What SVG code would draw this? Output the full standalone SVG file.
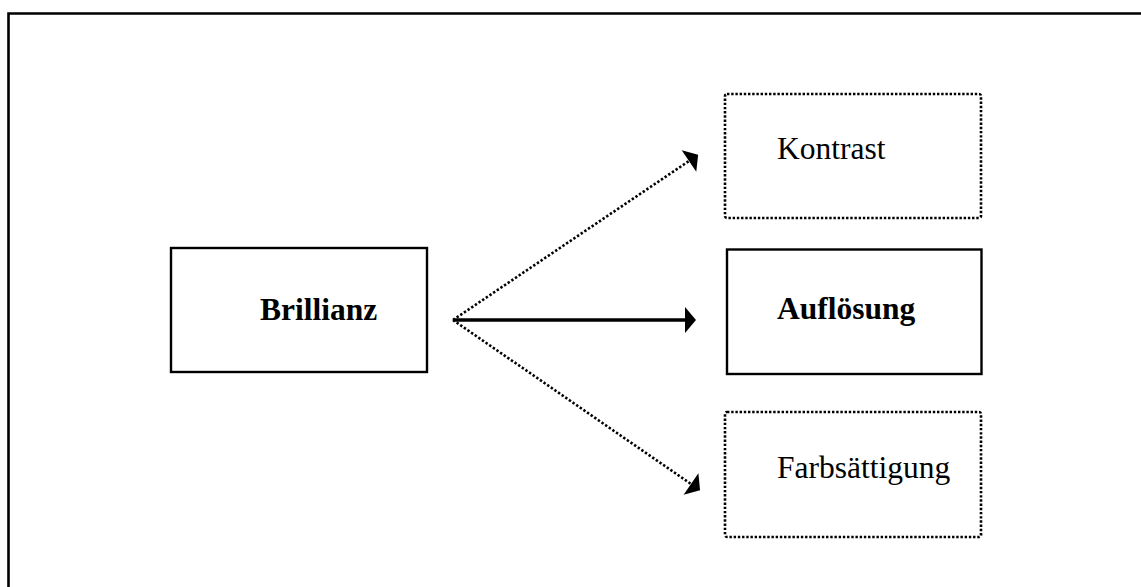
<svg xmlns="http://www.w3.org/2000/svg" width="1141" height="587" viewBox="0 0 1141 587">
  <style>
    .solid { fill: #fff; stroke: #000; stroke-width: 2.4; }
    .dotted { fill: #fff; stroke: #000; stroke-width: 2.6; stroke-dasharray: 2.4 1.8; }
    .label { font-family: "Liberation Serif", "Times New Roman", serif; font-size: 31.5px; fill: #000; }
    .bold { font-weight: bold; }
    .link-solid { stroke: #000; stroke-width: 3.4; fill: none; }
    .link-dotted { stroke: #000; stroke-width: 2.6; stroke-dasharray: 2.4 2; fill: none; }
  </style>
  <defs>
    <marker id="head" markerUnits="userSpaceOnUse" markerWidth="12" markerHeight="27" refX="0" refY="13" orient="auto" overflow="visible">
      <path d="M0,0 L11,13 L0,26 Z" fill="#000"/>
    </marker>
  </defs>

  <rect width="1141" height="587" fill="#fff"/>

  <!-- frame: left and top edges -->
  <path d="M8.5,587 V13.5 H1141" fill="none" stroke="#000" stroke-width="2.6"/>

  <g id="connectors">
    <line class="link-dotted" x1="453" y1="320" x2="689" y2="161" marker-end="url(#head)"/>
    <line class="link-solid" x1="453" y1="320" x2="685" y2="320" marker-end="url(#head)"/>
    <line class="link-dotted" x1="453" y1="320" x2="691" y2="484" marker-end="url(#head)"/>
  </g>

  <g id="brillianz">
    <rect class="solid" x="171" y="248" width="256" height="124"/>
    <text class="label bold" x="260" y="320">Brillianz</text>
  </g>

  <g id="kontrast">
    <rect class="dotted" x="725" y="94" width="256" height="124" rx="2"/>
    <text class="label" x="777" y="159">Kontrast</text>
  </g>

  <g id="aufloesung">
    <rect class="solid" x="727" y="249.5" width="254.5" height="124.5"/>
    <text class="label bold" x="777" y="319">Auflösung</text>
  </g>

  <g id="farbsaettigung">
    <rect class="dotted" x="725" y="412" width="256" height="125" rx="2"/>
    <text class="label" x="777" y="478">Farbsättigung</text>
  </g>
</svg>
